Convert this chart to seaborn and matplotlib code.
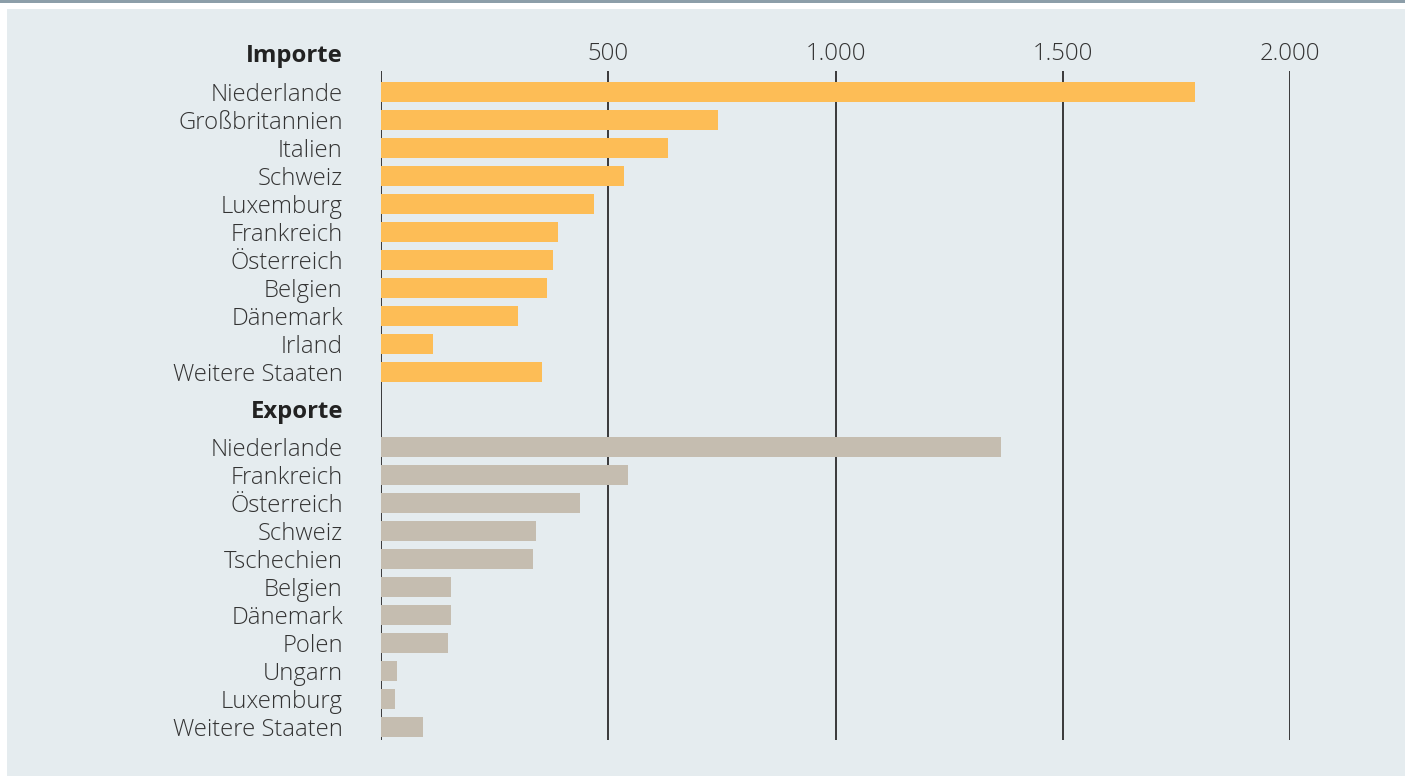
import numpy as np
import pandas as pd
import matplotlib
matplotlib.use("Agg")
import matplotlib.pyplot as plt
from matplotlib.patches import Rectangle
import seaborn as sns

# data (Mio. Euro)
import_countries = ["Niederlande", "Großbritannien", "Italien", "Schweiz", "Luxemburg",
                    "Frankreich", "Österreich", "Belgien", "Dänemark", "Irland", "Weitere Staaten"]
import_values = [1790, 741, 631, 535, 469, 389, 378, 365, 301, 114, 354]
export_countries = ["Niederlande", "Frankreich", "Österreich", "Schweiz", "Tschechien",
                    "Belgien", "Dänemark", "Polen", "Ungarn", "Luxemburg", "Weitere Staaten"]
export_values = [1364, 543, 438, 341, 334, 154, 154, 147, 35, 31, 92]
tick_values = [500, 1000, 1500, 2000]
tick_labels = ["500", "1.000", "1.500", "2.000"]

sns.set_theme(style="white")
plt.rcParams["font.family"] = ["Open Sans", "DejaVu Sans"]

BG = "#e5ecef"
TXT = "#333333"
FS = 17.2

# row layout (one unit = one row)
imp_pos = np.arange(len(import_countries)) + 0.75
exp_pos = imp_pos[-1] + 2.68 + np.arange(len(export_countries))
df_imp = pd.DataFrame({"pos": imp_pos, "value": import_values, "land": import_countries})
df_exp = pd.DataFrame({"pos": exp_pos, "value": export_values, "land": export_countries})

fig = plt.figure(figsize=(14.05, 7.76), dpi=100)
fig.patch.set_facecolor("white")
W, H = 1405, 776
fig.patches.append(Rectangle((7 / W, 0), 1, (H - 9) / H, transform=fig.transFigure,
                             facecolor=BG, edgecolor="none", zorder=-10))
fig.patches.append(Rectangle((0, (H - 2.5) / H), 1, 2.5 / H, transform=fig.transFigure,
                             facecolor="#8c9ea9", edgecolor="none", zorder=-10))

ax = fig.add_axes([381 / W, (H - 740) / H, (1290 - 381) / W, (740 - 71) / H])
ax.set_facecolor("none")

for x in [0] + tick_values:
    ax.axvline(x, color="#2b2b2b", lw=1.3, zorder=1)

sns.barplot(data=df_imp, x="value", y="pos", orient="h", native_scale=True,
            color="#fdbd56", saturation=1, width=0.74, linewidth=0, ax=ax, zorder=2)
sns.barplot(data=df_exp, x="value", y="pos", orient="h", native_scale=True,
            color="#c5bdb0", saturation=1, width=0.74, linewidth=0, ax=ax, zorder=2)

ax.set_xlim(0, 2000)
ax.set_ylim(23.89, 0)
ax.set_xlabel("")
ax.set_ylabel("")
for s in ax.spines.values():
    s.set_visible(False)

ax.xaxis.tick_top()
ax.set_xticks(tick_values)
ax.set_xticklabels(tick_labels, fontsize=FS, color=TXT, fontweight="light")
ax.tick_params(axis="x", length=0, pad=3.5)

ax.set_yticks(list(imp_pos) + list(exp_pos))
ax.set_yticklabels(import_countries + export_countries, fontsize=FS, color=TXT,
                   fontweight="light")
ax.tick_params(axis="y", length=0, pad=27.5)

trans = ax.get_yaxis_transform()
ax.text(-38 / (1290 - 381), -0.54, "Importe", transform=trans, ha="right", va="center",
        fontsize=FS, fontweight="bold", color="#222222", clip_on=False)
ax.text(-38 / (1290 - 381), imp_pos[-1] + 1.42, "Exporte", transform=trans, ha="right",
        va="center", fontsize=FS, fontweight="bold", color="#222222", clip_on=False)

fig.savefig("out.png", dpi=100, facecolor=fig.get_facecolor())
